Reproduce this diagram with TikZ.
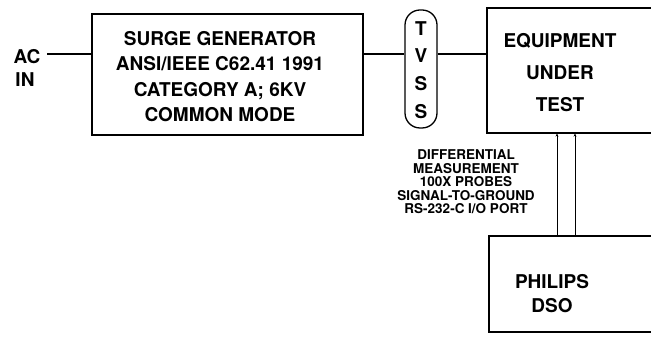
\documentclass[tikz,border=0pt]{standalone}
\usepackage{fontspec}
\setmainfont{TeX Gyre Heros}
\usetikzlibrary{arrows.meta}

\tikzset{
  blockbox/.style={draw=black,line width=1.6pt,inner sep=0pt},
  bigtext/.style={font=\fontsize{19}{25.2}\selectfont\bfseries,align=center,inner sep=0pt},
  smalltext/.style={font=\fontsize{13.5}{13.5}\selectfont\bfseries,align=center,inner sep=0pt},
  wire/.style={draw=black,line width=1.3pt},
  probe/.style={draw=black,line width=0.7pt,-{Stealth[length=3pt,width=3pt]}}
}

\begin{document}
\begin{tikzpicture}[x=1pt,y=1pt]
\path[use as bounding box,fill=white] (0,0) rectangle (651,337);
\clip (0,0) rectangle (651,337);

% input
\node[bigtext] (ac) at (27,280) {AC};
\node[bigtext] (in) at (25,257) {IN};

% surge generator
\node[blockbox,minimum width=271pt,minimum height=121pt] (surge) at (227.5,262.5) {};
\node[bigtext] (surgetext) at (220,260.5) {SURGE GENERATOR\\ANSI/IEEE C62.41 1991\\CATEGORY A; 6KV\\COMMON MODE};

% suppressor
\node[blockbox,line width=1.3pt,rounded corners=15pt,minimum width=32pt,minimum height=118pt] (tvss) at (421,268) {};
\node[bigtext,font=\fontsize{19}{27.8}\selectfont\bfseries] (tvsstext) at (421,267) {T\\V\\S\\S};

% equipment under test, open to the right
\node[blockbox,anchor=north west,minimum width=220pt,minimum height=125pt] (eut) at (486,330) {};
\node[bigtext,font=\fontsize{19}{32.2}\selectfont\bfseries] (euttext) at (560,264.5) {EQUIPMENT\\UNDER\\TEST};

% oscilloscope
\node[blockbox,anchor=north west,minimum width=220pt,minimum height=96pt] (dso) at (488,102) {};
\node[bigtext,font=\fontsize{19}{24}\selectfont\bfseries] (dsotext) at (552,43) {PHILIPS\\DSO};

% probe note
\node[smalltext] (note) at (466,155) {DIFFERENTIAL\\MEASUREMENT\\100X PROBES\\SIGNAL-TO-GROUND\\RS-232-C I/O PORT};

% connectors
\coordinate (feed) at (47,283);
\draw[wire] (feed) -- (surge.west |- feed);
\draw[wire] (surge.east |- feed) -- (tvss.west |- feed);
\draw[wire] (tvss.east |- feed) -- (eut.west |- feed);

\coordinate (pa) at (557,150);
\coordinate (pb) at (575,150);
\draw[probe] (pa |- dso.north) -- (pa |- eut.south);
\draw[probe] (pb |- dso.north) -- (pb |- eut.south);
\end{tikzpicture}
\end{document}
